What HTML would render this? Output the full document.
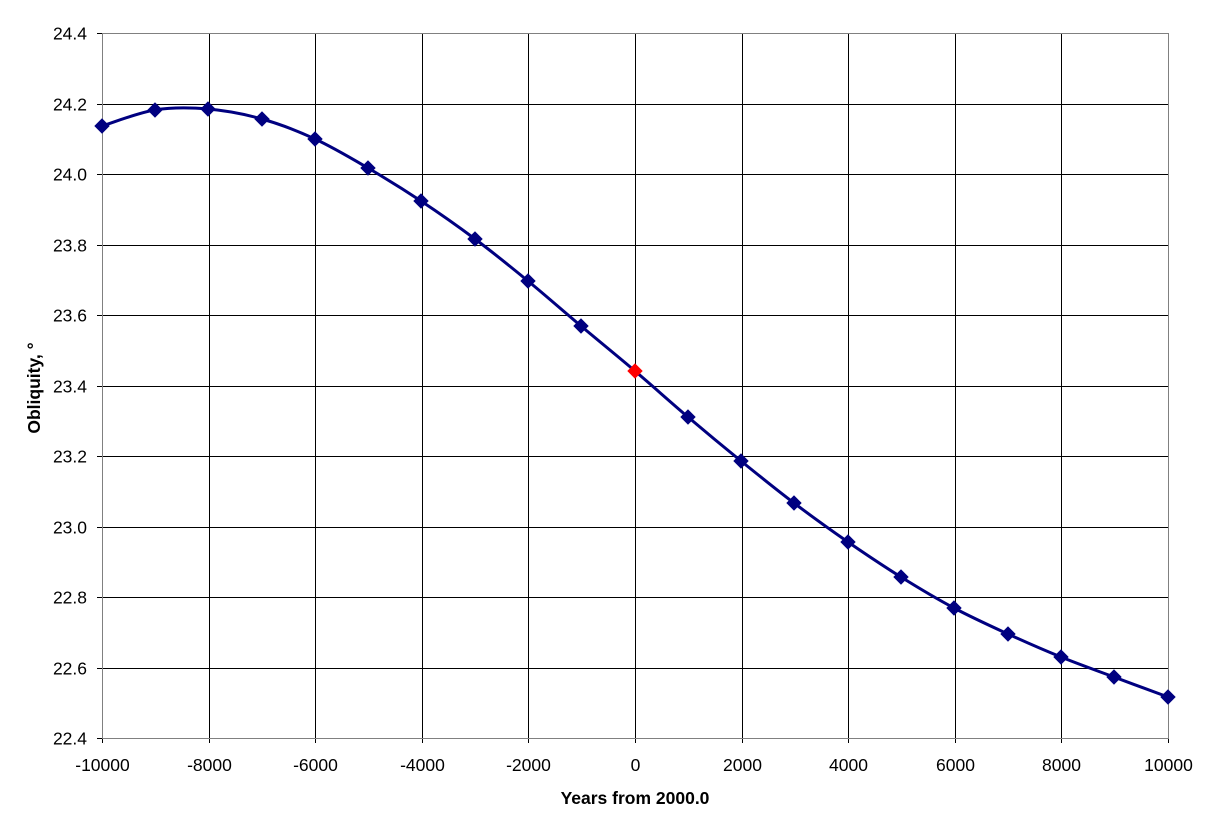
<!DOCTYPE html>
<html><head><meta charset="utf-8"><style>
html,body{margin:0;padding:0;background:#fff;}
svg text{font-family:"Liberation Sans",Arial,sans-serif;}
</style></head><body>
<svg id="s" width="1221" height="826" viewBox="0 0 1221 826" xmlns="http://www.w3.org/2000/svg">
<g id="grid" stroke="#000" stroke-width="1"></g>
<rect x="102.5" y="33.5" width="1066" height="705" fill="none" stroke="#808080" stroke-width="1"/>
<g id="lbl" font-size="17.5" fill="#000"></g>
<path id="curve" fill="none" stroke="#000080" stroke-width="3"/>
<g id="mk"></g>
<text x="635" y="804" font-size="17.5" font-weight="bold" text-anchor="middle">Years from 2000.0</text>
<text transform="translate(40,388) rotate(-90)" font-size="17.5" font-weight="bold" text-anchor="middle">Obliquity, °</text>
</svg>
<script>
var NS="http://www.w3.org/2000/svg";
function el(t,a,p){var e=document.createElementNS(NS,t);for(var k in a)e.setAttribute(k,a[k]);document.getElementById(p).appendChild(e);return e;}
var x0=102,x1=1168,y0=33,y1=738;
for(var i=0;i<=10;i++){var x=Math.round(x0+(x1-x0)*i/10)+0.5;
 el('line',{x1:x,y1:y0,x2:x,y2:y1+5},'grid');
 var t=el('text',{x:x,y:y1+33,'text-anchor':'middle'},'lbl');t.textContent=(-10000+2000*i);}
for(var j=0;j<=10;j++){var y=Math.round(y0+(y1-y0)*j/10)+0.5;
 el('line',{x1:x0-5,y1:y,x2:x1,y2:y},'grid');
 var t=el('text',{x:x0-15,y:y+6,'text-anchor':'end'},'lbl');t.textContent=(24.4-0.2*j).toFixed(1);}
var P=[[102,126],[155,110],[208,109],[262,119],[315,139],[368,168],[421,201],[475,239],[528,281],[581,326],[635,371],[688,417],[741,461],[794,503],[848,542],[901,577],[954,608],[1008,634],[1061,657],[1114,677],[1168,697]];
var d="M"+P[0][0]+","+P[0][1];
for(var i=0;i<P.length-1;i++){var a=P[Math.max(i-1,0)],b=P[i],c=P[i+1],e=P[Math.min(i+2,P.length-1)];
 var c1=[b[0]+(c[0]-a[0])/6,b[1]+(c[1]-a[1])/6],c2=[c[0]-(e[0]-b[0])/6,c[1]-(e[1]-b[1])/6];
 d+=" C"+c1+" "+c2+" "+c;}
document.getElementById('curve').setAttribute('d',d);
P.forEach(function(p,i){var s=7;el('polygon',{points:[p[0],p[1]-s,p[0]+s,p[1],p[0],p[1]+s,p[0]-s,p[1]].join(' '),fill:i==10?'#ff0000':'#000080',stroke:i==10?'#ff0000':'#000080','stroke-width':1},'mk');});
</script>
</body></html>
